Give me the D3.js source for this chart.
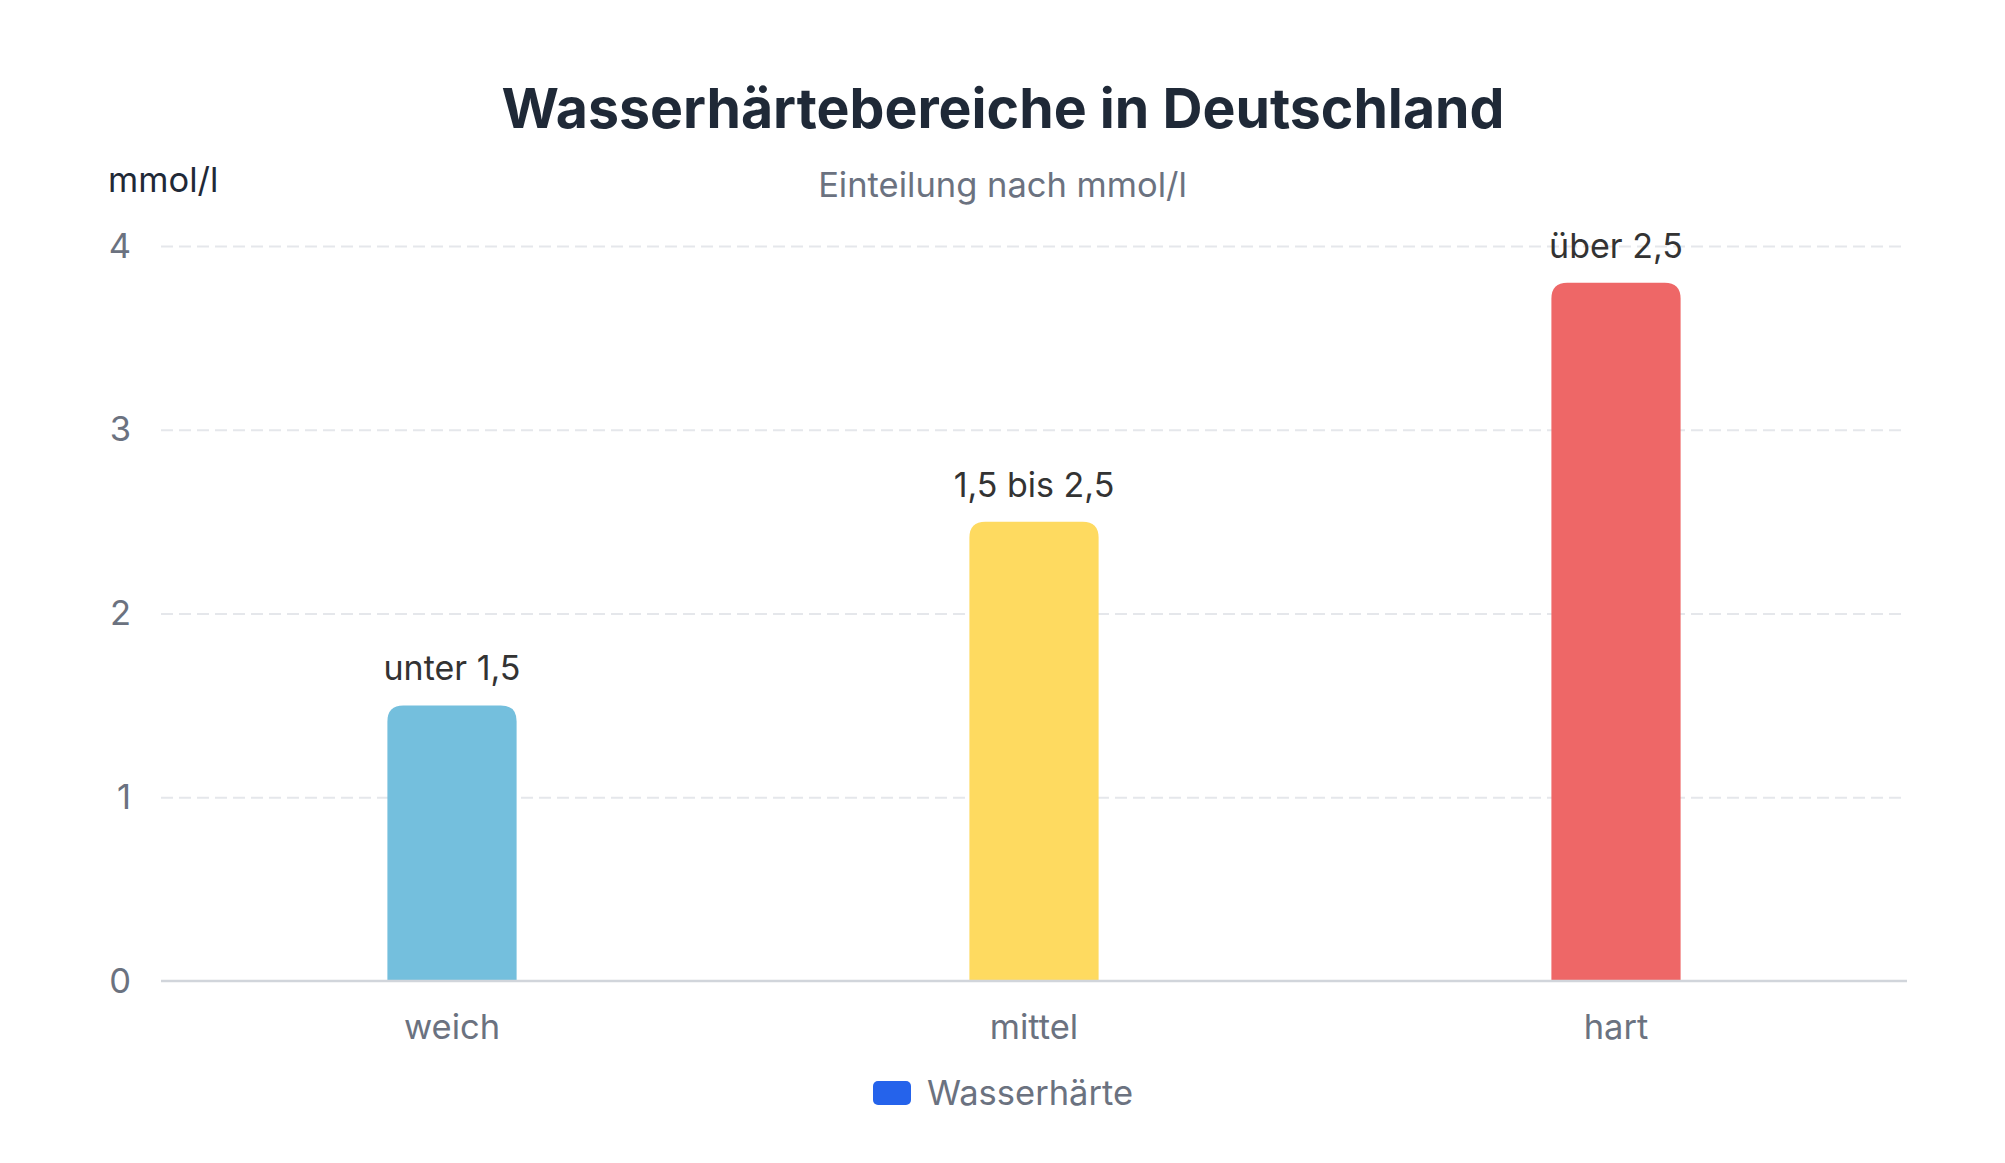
<!DOCTYPE html>
<html>
<head>
<meta charset="utf-8">
<script src="https://cdn.jsdelivr.net/npm/d3@7"></script>
<style>
  html, body { margin: 0; padding: 0; background: #fff; }
  svg { display: block; font-family: Inter, "Noto Sans", sans-serif; }
</style>
</head>
<body>
<svg id="chart" width="2005" height="1163"></svg>
<script>
// data
const categories = ["weich", "mittel", "hart"];
const values = [1.5, 2.5, 3.8];
const rangeLabels = ["unter 1,5", "1,5 bis 2,5", "über 2,5"];
const yTicks = [0, 1, 2, 3, 4];
const barColors = ["#74bfdd", "#feda60", "#ee6767"];

const svg = d3.select("#chart");
const margin = {top: 246, right: 98, bottom: 182, left: 161};
const width = 2005 - margin.left - margin.right,
      height = 1163 - margin.top - margin.bottom;

// title + subtitle
svg.append("text")
  .attr("x", 1003).attr("y", 128)
  .attr("text-anchor", "middle")
  .style("font-size", "55.4px").style("font-weight", 700)
  .style("fill", "#1f2937")
  .text("Wasserhärtebereiche in Deutschland");

svg.append("text")
  .attr("x", 1002.5).attr("y", 197)
  .attr("text-anchor", "middle")
  .style("font-size", "34.5px")
  .style("fill", "#6b7280")
  .text("Einteilung nach mmol/l");

// y axis title
svg.append("text")
  .attr("x", 108).attr("y", 192)
  .style("font-size", "34.5px")
  .style("fill", "#1f2937")
  .text("mmol/l");

const g = svg.append("g")
  .attr("transform", "translate(" + margin.left + "," + margin.top + ")");

// scales
const x = d3.scaleBand()
  .domain(categories)
  .range([0, width])
  .paddingInner(0.778)
  .paddingOuter(0.389);

const y = d3.scaleLinear()
  .domain([0, 4])
  .range([height, 0]);

// y axis with dashed grid
const yAxis = g.append("g")
  .attr("class", "y axis")
  .call(d3.axisLeft(y).tickValues(yTicks).tickFormat(d3.format("d"))
    .tickSize(-width).tickPadding(30));

yAxis.select(".domain").remove();
yAxis.selectAll(".tick line")
  .style("stroke", "#e5e7eb")
  .style("stroke-width", 2)
  .style("stroke-dasharray", "12 6")
  .style("opacity", d => d === 0 ? 0 : 1);
yAxis.selectAll(".tick text")
  .style("font-size", "34.5px")
  .style("font-family", "Inter, sans-serif")
  .style("fill", "#6b7280");

// bars with rounded tops
const r = 16;
function barPath(d, i) {
  const x0 = x(categories[i]), w = x.bandwidth();
  const top = y(d), bottom = y(0);
  return "M" + x0 + "," + bottom +
    "V" + (top + r) +
    "Q" + x0 + "," + top + " " + (x0 + r) + "," + top +
    "H" + (x0 + w - r) +
    "Q" + (x0 + w) + "," + top + " " + (x0 + w) + "," + (top + r) +
    "V" + bottom + "Z";
}

g.selectAll(".bar")
  .data(values)
  .enter().append("path")
  .attr("class", "bar")
  .attr("d", barPath)
  .style("fill", (d, i) => barColors[i]);

// value range labels above the bars
g.selectAll(".bar-label")
  .data(values)
  .enter().append("text")
  .attr("class", "bar-label")
  .attr("x", (d, i) => x(categories[i]) + x.bandwidth() / 2)
  .attr("y", d => y(d) - 25)
  .attr("text-anchor", "middle")
  .style("font-size", "34px")
  .style("fill", "#333333")
  .text((d, i) => rangeLabels[i]);

// baseline
g.append("line")
  .attr("x1", 0).attr("x2", width)
  .attr("y1", y(0)).attr("y2", y(0))
  .style("stroke", "#d1d5db")
  .style("stroke-width", 2.5);

// x axis labels
const xAxis = g.append("g")
  .attr("class", "x axis")
  .attr("transform", "translate(0," + height + ")")
  .call(d3.axisBottom(x).tickSize(0).tickPadding(34));

xAxis.select(".domain").remove();
xAxis.selectAll(".tick text")
  .style("font-size", "34.5px")
  .style("font-family", "Inter, sans-serif")
  .style("fill", "#6b7280");

// legend
const legend = svg.append("g").attr("transform", "translate(873,1081)");
legend.append("rect")
  .attr("width", 38).attr("height", 24)
  .attr("rx", 5)
  .style("fill", "#2563eb");
legend.append("text")
  .attr("x", 54).attr("y", 24)
  .style("font-size", "34.5px")
  .style("fill", "#6b7280")
  .text("Wasserhärte");
</script>
</body>
</html>
